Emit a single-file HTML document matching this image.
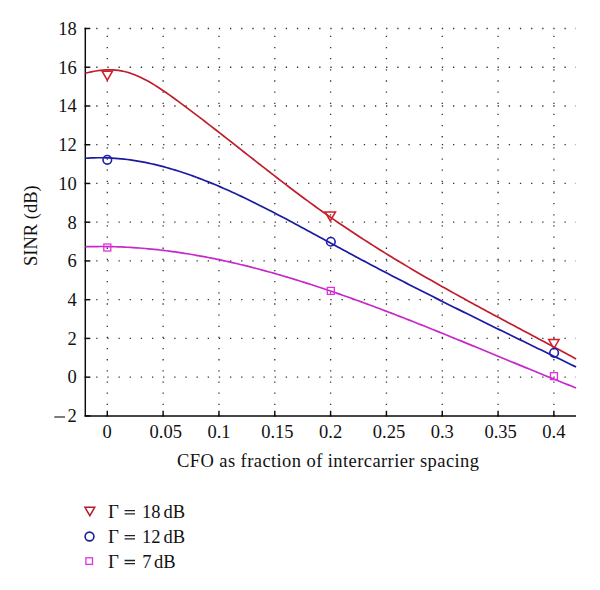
<!DOCTYPE html>
<html><head><meta charset="utf-8"><style>
html,body{margin:0;padding:0;background:#fff;}
body{width:600px;height:590px;overflow:hidden;font-family:"Liberation Serif",serif;}
svg{display:block;}
</style></head><body>
<svg width="600" height="590" viewBox="0 0 600 590"><g stroke="#333" stroke-width="1.3" stroke-dasharray="1.3 9.85" stroke-dashoffset="0.25" fill="none"><line x1="85.3" y1="377.16" x2="576.0" y2="377.16"/><line x1="85.3" y1="338.42" x2="576.0" y2="338.42"/><line x1="85.3" y1="299.68" x2="576.0" y2="299.68"/><line x1="85.3" y1="260.94" x2="576.0" y2="260.94"/><line x1="85.3" y1="222.20" x2="576.0" y2="222.20"/><line x1="85.3" y1="183.46" x2="576.0" y2="183.46"/><line x1="85.3" y1="144.72" x2="576.0" y2="144.72"/><line x1="85.3" y1="105.98" x2="576.0" y2="105.98"/><line x1="85.3" y1="67.24" x2="576.0" y2="67.24"/><line x1="85.3" y1="28.50" x2="576.0" y2="28.50"/><line x1="107.30" y1="415.9" x2="107.30" y2="28.5"/><line x1="163.12" y1="415.9" x2="163.12" y2="28.5"/><line x1="218.95" y1="415.9" x2="218.95" y2="28.5"/><line x1="274.78" y1="415.9" x2="274.78" y2="28.5"/><line x1="330.60" y1="415.9" x2="330.60" y2="28.5"/><line x1="386.43" y1="415.9" x2="386.43" y2="28.5"/><line x1="442.25" y1="415.9" x2="442.25" y2="28.5"/><line x1="498.08" y1="415.9" x2="498.08" y2="28.5"/><line x1="553.90" y1="415.9" x2="553.90" y2="28.5"/></g>
<g stroke="#0a0a0a" stroke-width="1.45" fill="none" stroke-linecap="square"><path d="M85.3,28.5 V416.0 H575.3"/><line x1="85.3" y1="415.90" x2="89.6" y2="415.90"/><line x1="85.3" y1="377.16" x2="89.6" y2="377.16"/><line x1="85.3" y1="338.42" x2="89.6" y2="338.42"/><line x1="85.3" y1="299.68" x2="89.6" y2="299.68"/><line x1="85.3" y1="260.94" x2="89.6" y2="260.94"/><line x1="85.3" y1="222.20" x2="89.6" y2="222.20"/><line x1="85.3" y1="183.46" x2="89.6" y2="183.46"/><line x1="85.3" y1="144.72" x2="89.6" y2="144.72"/><line x1="85.3" y1="105.98" x2="89.6" y2="105.98"/><line x1="85.3" y1="67.24" x2="89.6" y2="67.24"/><line x1="85.3" y1="28.50" x2="89.6" y2="28.50"/><line x1="107.30" y1="415.9" x2="107.30" y2="411.5"/><line x1="163.12" y1="415.9" x2="163.12" y2="411.5"/><line x1="218.95" y1="415.9" x2="218.95" y2="411.5"/><line x1="274.78" y1="415.9" x2="274.78" y2="411.5"/><line x1="330.60" y1="415.9" x2="330.60" y2="411.5"/><line x1="386.43" y1="415.9" x2="386.43" y2="411.5"/><line x1="442.25" y1="415.9" x2="442.25" y2="411.5"/><line x1="498.08" y1="415.9" x2="498.08" y2="411.5"/><line x1="553.90" y1="415.9" x2="553.90" y2="411.5"/></g>
<path d="M85.3,73.21 L88.3,72.47 L91.3,71.80 L94.3,71.22 L97.3,70.73 L100.3,70.34 L103.3,70.05 L106.3,69.87 L109.3,69.81 L112.3,69.88 L115.3,70.07 L118.3,70.40 L121.3,70.87 L124.3,71.49 L127.3,72.26 L130.3,73.18 L133.3,74.24 L136.3,75.43 L139.3,76.74 L142.3,78.16 L145.3,79.70 L148.3,81.33 L151.3,83.05 L154.3,84.86 L157.3,86.74 L160.3,88.69 L163.3,90.71 L166.3,92.77 L169.3,94.88 L172.3,97.03 L175.3,99.20 L178.3,101.40 L181.3,103.61 L184.3,105.84 L187.3,108.08 L190.3,110.33 L193.3,112.59 L196.3,114.87 L199.3,117.15 L202.3,119.45 L205.3,121.75 L208.3,124.06 L211.3,126.38 L214.3,128.71 L217.3,131.04 L220.3,133.38 L223.3,135.72 L226.3,138.07 L229.3,140.42 L232.3,142.78 L235.3,145.13 L238.3,147.49 L241.3,149.85 L244.3,152.21 L247.3,154.57 L250.3,156.93 L253.3,159.29 L256.3,161.64 L259.3,163.99 L262.3,166.34 L265.3,168.68 L268.3,171.02 L271.3,173.35 L274.3,175.68 L277.3,178.00 L280.3,180.31 L283.3,182.62 L286.3,184.91 L289.3,187.20 L292.3,189.47 L295.3,191.73 L298.3,193.99 L301.3,196.23 L304.3,198.45 L307.3,200.66 L310.3,202.86 L313.3,205.05 L316.3,207.22 L319.3,209.37 L322.3,211.50 L325.3,213.63 L328.3,215.73 L331.3,217.82 L334.3,219.90 L337.3,221.96 L340.3,224.01 L343.3,226.04 L346.3,228.06 L349.3,230.06 L352.3,232.05 L355.3,234.03 L358.3,236.00 L361.3,237.95 L364.3,239.89 L367.3,241.82 L370.3,243.74 L373.3,245.64 L376.3,247.53 L379.3,249.41 L382.3,251.28 L385.3,253.14 L388.3,254.99 L391.3,256.83 L394.3,258.65 L397.3,260.47 L400.3,262.28 L403.3,264.07 L406.3,265.86 L409.3,267.64 L412.3,269.41 L415.3,271.17 L418.3,272.93 L421.3,274.67 L424.3,276.41 L427.3,278.14 L430.3,279.86 L433.3,281.57 L436.3,283.28 L439.3,284.98 L442.3,286.67 L445.3,288.36 L448.3,290.04 L451.3,291.71 L454.3,293.38 L457.3,295.04 L460.3,296.70 L463.3,298.35 L466.3,300.00 L469.3,301.64 L472.3,303.28 L475.3,304.91 L478.3,306.54 L481.3,308.17 L484.3,309.79 L487.3,311.41 L490.3,313.03 L493.3,314.64 L496.3,316.25 L499.3,317.86 L502.3,319.47 L505.3,321.07 L508.3,322.67 L511.3,324.27 L514.3,325.87 L517.3,327.47 L520.3,329.07 L523.3,330.67 L526.3,332.26 L529.3,333.86 L532.3,335.46 L535.3,337.05 L538.3,338.65 L541.3,340.25 L544.3,341.85 L547.3,343.45 L550.3,345.05 L553.3,346.65 L556.3,348.26 L559.3,349.86 L562.3,351.47 L565.3,353.08 L568.3,354.70 L571.3,356.32 L574.3,357.94 L576.1,358.91" stroke="#c01e2c" stroke-width="1.7" fill="none" stroke-linejoin="round"/>
<path d="M85.3,158.26 L88.3,158.07 L91.3,157.91 L94.3,157.81 L97.3,157.75 L100.3,157.73 L103.3,157.76 L106.3,157.83 L109.3,157.95 L112.3,158.10 L115.3,158.30 L118.3,158.54 L121.3,158.82 L124.3,159.14 L127.3,159.50 L130.3,159.90 L133.3,160.33 L136.3,160.81 L139.3,161.32 L142.3,161.86 L145.3,162.45 L148.3,163.06 L151.3,163.72 L154.3,164.40 L157.3,165.12 L160.3,165.87 L163.3,166.66 L166.3,167.47 L169.3,168.32 L172.3,169.20 L175.3,170.10 L178.3,171.04 L181.3,172.00 L184.3,172.99 L187.3,174.01 L190.3,175.06 L193.3,176.13 L196.3,177.23 L199.3,178.35 L202.3,179.50 L205.3,180.67 L208.3,181.87 L211.3,183.09 L214.3,184.32 L217.3,185.58 L220.3,186.87 L223.3,188.17 L226.3,189.49 L229.3,190.83 L232.3,192.19 L235.3,193.57 L238.3,194.96 L241.3,196.37 L244.3,197.80 L247.3,199.24 L250.3,200.70 L253.3,202.17 L256.3,203.65 L259.3,205.15 L262.3,206.66 L265.3,208.18 L268.3,209.72 L271.3,211.26 L274.3,212.81 L277.3,214.38 L280.3,215.95 L283.3,217.53 L286.3,219.12 L289.3,220.72 L292.3,222.32 L295.3,223.93 L298.3,225.54 L301.3,227.16 L304.3,228.79 L307.3,230.41 L310.3,232.04 L313.3,233.67 L316.3,235.31 L319.3,236.94 L322.3,238.58 L325.3,240.21 L328.3,241.85 L331.3,243.48 L334.3,245.11 L337.3,246.74 L340.3,248.37 L343.3,249.99 L346.3,251.61 L349.3,253.22 L352.3,254.83 L355.3,256.44 L358.3,258.04 L361.3,259.64 L364.3,261.23 L367.3,262.82 L370.3,264.40 L373.3,265.98 L376.3,267.56 L379.3,269.13 L382.3,270.70 L385.3,272.27 L388.3,273.83 L391.3,275.39 L394.3,276.94 L397.3,278.49 L400.3,280.04 L403.3,281.59 L406.3,283.13 L409.3,284.67 L412.3,286.20 L415.3,287.73 L418.3,289.26 L421.3,290.79 L424.3,292.31 L427.3,293.83 L430.3,295.35 L433.3,296.86 L436.3,298.37 L439.3,299.88 L442.3,301.39 L445.3,302.89 L448.3,304.39 L451.3,305.89 L454.3,307.39 L457.3,308.88 L460.3,310.38 L463.3,311.87 L466.3,313.36 L469.3,314.84 L472.3,316.33 L475.3,317.81 L478.3,319.29 L481.3,320.77 L484.3,322.25 L487.3,323.73 L490.3,325.20 L493.3,326.67 L496.3,328.15 L499.3,329.62 L502.3,331.09 L505.3,332.55 L508.3,334.02 L511.3,335.49 L514.3,336.95 L517.3,338.41 L520.3,339.88 L523.3,341.34 L526.3,342.80 L529.3,344.26 L532.3,345.72 L535.3,347.18 L538.3,348.64 L541.3,350.10 L544.3,351.56 L547.3,353.01 L550.3,354.47 L553.3,355.93 L556.3,357.38 L559.3,358.84 L562.3,360.30 L565.3,361.76 L568.3,363.21 L571.3,364.67 L574.3,366.13 L576.1,367.00" stroke="#1b1ba2" stroke-width="1.7" fill="none" stroke-linejoin="round"/>
<path d="M85.3,246.77 L88.3,246.68 L91.3,246.61 L94.3,246.56 L97.3,246.53 L100.3,246.52 L103.3,246.52 L106.3,246.55 L109.3,246.59 L112.3,246.65 L115.3,246.73 L118.3,246.83 L121.3,246.95 L124.3,247.08 L127.3,247.24 L130.3,247.40 L133.3,247.59 L136.3,247.80 L139.3,248.02 L142.3,248.26 L145.3,248.51 L148.3,248.78 L151.3,249.07 L154.3,249.38 L157.3,249.70 L160.3,250.03 L163.3,250.39 L166.3,250.76 L169.3,251.14 L172.3,251.54 L175.3,251.96 L178.3,252.39 L181.3,252.83 L184.3,253.30 L187.3,253.77 L190.3,254.26 L193.3,254.77 L196.3,255.29 L199.3,255.82 L202.3,256.37 L205.3,256.93 L208.3,257.51 L211.3,258.10 L214.3,258.70 L217.3,259.32 L220.3,259.95 L223.3,260.59 L226.3,261.25 L229.3,261.92 L232.3,262.60 L235.3,263.29 L238.3,264.00 L241.3,264.72 L244.3,265.45 L247.3,266.19 L250.3,266.94 L253.3,267.71 L256.3,268.49 L259.3,269.28 L262.3,270.08 L265.3,270.89 L268.3,271.71 L271.3,272.55 L274.3,273.39 L277.3,274.25 L280.3,275.11 L283.3,275.99 L286.3,276.87 L289.3,277.77 L292.3,278.67 L295.3,279.59 L298.3,280.51 L301.3,281.45 L304.3,282.39 L307.3,283.34 L310.3,284.30 L313.3,285.27 L316.3,286.25 L319.3,287.24 L322.3,288.24 L325.3,289.24 L328.3,290.25 L331.3,291.27 L334.3,292.30 L337.3,293.34 L340.3,294.38 L343.3,295.43 L346.3,296.49 L349.3,297.56 L352.3,298.63 L355.3,299.71 L358.3,300.79 L361.3,301.88 L364.3,302.98 L367.3,304.09 L370.3,305.20 L373.3,306.32 L376.3,307.44 L379.3,308.57 L382.3,309.70 L385.3,310.84 L388.3,311.98 L391.3,313.13 L394.3,314.29 L397.3,315.45 L400.3,316.61 L403.3,317.78 L406.3,318.95 L409.3,320.13 L412.3,321.31 L415.3,322.50 L418.3,323.69 L421.3,324.88 L424.3,326.08 L427.3,327.28 L430.3,328.48 L433.3,329.69 L436.3,330.90 L439.3,332.11 L442.3,333.32 L445.3,334.54 L448.3,335.76 L451.3,336.98 L454.3,338.21 L457.3,339.43 L460.3,340.66 L463.3,341.89 L466.3,343.12 L469.3,344.35 L472.3,345.59 L475.3,346.82 L478.3,348.06 L481.3,349.29 L484.3,350.53 L487.3,351.77 L490.3,353.01 L493.3,354.25 L496.3,355.48 L499.3,356.72 L502.3,357.96 L505.3,359.20 L508.3,360.44 L511.3,361.67 L514.3,362.91 L517.3,364.14 L520.3,365.38 L523.3,366.61 L526.3,367.84 L529.3,369.07 L532.3,370.30 L535.3,371.53 L538.3,372.75 L541.3,373.98 L544.3,375.20 L547.3,376.42 L550.3,377.63 L553.3,378.84 L556.3,380.06 L559.3,381.26 L562.3,382.47 L565.3,383.67 L568.3,384.87 L571.3,386.06 L574.3,387.25 L576.1,387.97" stroke="#c628ca" stroke-width="1.7" fill="none" stroke-linejoin="round"/>
<path d="M102.10,71.20 H112.50 L107.30,80.20 Z" stroke="#d41e2a" stroke-width="1.5" fill="none" stroke-linejoin="miter"/>
<path d="M325.10,212.00 H335.50 L330.30,221.00 Z" stroke="#d41e2a" stroke-width="1.5" fill="none" stroke-linejoin="miter"/>
<path d="M548.70,339.60 H559.10 L553.90,348.60 Z" stroke="#d41e2a" stroke-width="1.5" fill="none" stroke-linejoin="miter"/>
<circle cx="107.3" cy="159.8" r="4.3" stroke="#2020b0" stroke-width="1.6" fill="none"/>
<circle cx="330.85" cy="241.75" r="4.3" stroke="#2020b0" stroke-width="1.6" fill="none"/>
<circle cx="554.1" cy="352.85" r="4.3" stroke="#2020b0" stroke-width="1.6" fill="none"/>
<rect x="103.80" y="244.00" width="7.0" height="7.0" stroke="#e030e0" stroke-width="1.3" fill="none"/>
<rect x="327.30" y="287.40" width="7.0" height="7.0" stroke="#e030e0" stroke-width="1.3" fill="none"/>
<rect x="550.45" y="372.65" width="7.0" height="7.0" stroke="#e030e0" stroke-width="1.3" fill="none"/>
<g font-family="Liberation Serif" font-size="18.5" fill="#111"><text x="76.8" y="422.20" text-anchor="end">2</text><line x1="54.3" y1="417" x2="65" y2="417" stroke="#111" stroke-width="1.1"/><text x="76.8" y="383.46" text-anchor="end">0</text><text x="76.8" y="344.72" text-anchor="end">2</text><text x="76.8" y="305.98" text-anchor="end">4</text><text x="76.8" y="267.24" text-anchor="end">6</text><text x="76.8" y="228.50" text-anchor="end">8</text><text x="76.8" y="189.76" text-anchor="end">10</text><text x="76.8" y="151.02" text-anchor="end">12</text><text x="76.8" y="112.28" text-anchor="end">14</text><text x="76.8" y="73.54" text-anchor="end">16</text><text x="76.8" y="34.80" text-anchor="end">18</text><text x="107.10" y="438.2" text-anchor="middle">0</text><text x="165.72" y="438.2" text-anchor="middle">0.05</text><text x="218.95" y="438.2" text-anchor="middle">0.1</text><text x="277.38" y="438.2" text-anchor="middle">0.15</text><text x="330.60" y="438.2" text-anchor="middle">0.2</text><text x="389.03" y="438.2" text-anchor="middle">0.25</text><text x="442.25" y="438.2" text-anchor="middle">0.3</text><text x="500.68" y="438.2" text-anchor="middle">0.35</text><text x="553.90" y="438.2" text-anchor="middle">0.4</text><text x="177" y="467" textLength="302" lengthAdjust="spacing">CFO as fraction of intercarrier spacing</text><text transform="translate(36.8,266) rotate(-90)">SINR (dB)</text></g>
<g font-family="Liberation Serif" font-size="18.5" fill="#111"><path d="M84.95,507.30 H94.75 L89.85,515.70 Z" stroke="#b01e30" stroke-width="1.5" fill="none" stroke-linejoin="miter"/><circle cx="89.5" cy="536.5" r="4.4" stroke="#1e1e98" stroke-width="1.6" fill="none"/><rect x="85.90" y="557.80" width="6.6" height="6.6" stroke="#e030e0" stroke-width="1.3" fill="none"/><text transform="translate(108.1,517.7) scale(1.02,1.06)">Γ</text><path d="M124.6,510.70 H135 M124.6,513.90 H135" stroke="#222" stroke-width="1.3" fill="none"/><text x="142.1" y="517.7">18</text><text x="163.4" y="517.7">dB</text><text transform="translate(108.1,542.6) scale(1.02,1.06)">Γ</text><path d="M124.6,535.60 H135 M124.6,538.80 H135" stroke="#222" stroke-width="1.3" fill="none"/><text x="142.1" y="542.6">12</text><text x="163.4" y="542.6">dB</text><text transform="translate(108.1,567.5) scale(1.02,1.06)">Γ</text><path d="M124.6,560.50 H135 M124.6,563.70 H135" stroke="#222" stroke-width="1.3" fill="none"/><text x="142.3" y="567.5">7</text><text x="154.1" y="567.5">dB</text></g></svg>
</body></html>
